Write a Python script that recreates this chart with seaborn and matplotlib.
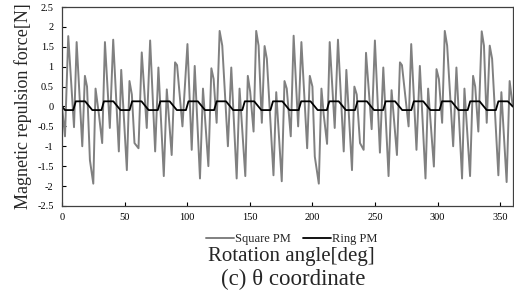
import numpy as np
import pandas as pd
import matplotlib
matplotlib.use('Agg')
import matplotlib.pyplot as plt
import seaborn as sns

# Square PM: vertices (angle [deg], force [N])
square_angle = [0, 2.4, 5.0, 9.6, 11.7, 16.2, 18.3, 20.0, 22.3, 25.0, 26.8, 29.5, 32.1,
                34.3, 38.2, 40.9, 45.4, 47.3, 51.8, 53.9, 55.8, 57.9, 61.1, 63.7, 67.7,
                70.4, 74.4, 77.0, 81.3, 83.7, 87.6, 90.3, 91.9, 96.2, 100.2, 103.6, 106.0,
                110.2, 112.6, 116.9, 119.3, 121.1, 123.5, 125.9, 128.0, 132.5, 135.2,
                139.5, 141.8, 146.4, 148.4, 150.3, 153.0, 155.1, 157.0, 159.6, 161.8,
                163.6, 168.9, 171.1, 175.5, 177.7, 179.5, 182.7, 185.0, 188.6, 191.2,
                195.8, 197.9, 200.0, 201.9, 205.1, 207.2, 209.0, 211.7, 213.8, 217.8,
                220.4, 225.0, 227.1, 231.6, 233.5, 235.4, 238.0, 240.9, 242.8, 247.3,
                249.9, 253.9, 256.6, 260.8, 263.2, 267.5, 269.9, 271.5, 276.8, 278.9,
                283.1, 285.8, 290.3, 292.4, 297.0, 299.1, 301.0, 303.6, 305.7, 307.6,
                312.4, 315.0, 319.5, 321.4, 325.9, 328.3, 330.0, 332.5, 335.2, 337.0,
                339.2, 341.6, 343.5, 348.5, 350.9, 355.1, 357.5, 360.0]
square_force = [0.0, -0.75, 1.77, -0.52, 1.62, -1.0, 0.77, 0.5, -1.35, -1.94, 0.45, -0.2, -0.92,
                1.62, -0.54, 1.68, -1.13, 0.92, -1.6, 0.64, 0.3, -0.92, -1.05, 1.36, -0.54,
                1.66, -1.13, 0.98, -1.75, 0.43, -1.22, 1.11, 1.04, -0.5, 1.57, -1.09, 1.02,
                -1.81, 0.45, -1.5, 0.96, 0.69, -0.41, 1.9, 1.53, -1.0, 0.98,
                -1.81, 0.45, -1.75, 0.77, 0.37, -0.63, 1.9, 1.53, -0.41, 1.52,
                1.2, -1.73, 0.36, -1.88, 0.64, 0.45, -0.75, 1.78, -0.5, 1.62,
                -1.05, 0.77, 0.5, -1.26, -1.94, 0.45, -0.2, -0.94, 1.62, -0.54,
                1.68, -1.13, 0.92, -1.6, 0.5, 0.3, -0.92, -1.09, 1.35, -0.57,
                1.66, -1.16, 0.98, -1.75, 0.41, -1.22, 1.11, 1.04, -0.5, 1.57,
                -1.09, 1.02, -1.81, 0.45, -1.51, 0.94, 0.69, -0.41, 1.9, 1.53,
                -1.0, 0.98, -1.81, 0.45, -1.75, 0.77, 0.5, -0.63, 1.89, 1.53,
                -0.41, 1.53, 1.2, -1.73, 0.36, -1.9, 0.64, 0.0]

# Ring PM: vertices of the small stepped ripple
ring_angle = [0, 2.4,
              9, 11, 18.5, 24.2, 31.5, 33.5, 41, 46.7, 54, 56, 63.5, 69.2,
              76.5, 78.5, 86, 91.7, 99, 101, 108.5, 114.2, 121.5, 123.5, 131, 136.7,
              144, 146, 153.5, 159.2, 166.5, 168.5, 176, 181.7, 189, 191, 198.5, 204.2,
              211.5, 213.5, 221, 226.7, 234, 236, 243.5, 249.2, 256.5, 258.5, 266, 271.7,
              279, 281, 288.5, 294.2, 301.5, 303.5, 311, 316.7, 324, 326, 333.5, 339.2,
              346.5, 348.5, 356, 360]
ring_force = [0.0, -0.09,
              -0.09, 0.13, 0.13, -0.09, -0.09, 0.13, 0.13, -0.09, -0.09, 0.13, 0.13, -0.09,
              -0.09, 0.13, 0.13, -0.09, -0.09, 0.13, 0.13, -0.09, -0.09, 0.13, 0.13, -0.09,
              -0.09, 0.13, 0.13, -0.09, -0.09, 0.13, 0.13, -0.09, -0.09, 0.13, 0.13, -0.09,
              -0.09, 0.13, 0.13, -0.09, -0.09, 0.13, 0.13, -0.09, -0.09, 0.13, 0.13, -0.09,
              -0.09, 0.13, 0.13, -0.09, -0.09, 0.13, 0.13, -0.09, -0.09, 0.13, 0.13, -0.09,
              -0.09, 0.13, 0.13, 0.0]

x_ticks = [0, 50, 100, 150, 200, 250, 300, 350]
y_ticks = [2.5, 2, 1.5, 1, 0.5, 0, -0.5, -1, -1.5, -2, -2.5]
y_tick_labels = ['2.5', '2', '1.5', '1', '0.5', '0', '-0.5', '-1', '-1.5', '-2', '-2.5']

sns.set_style('ticks')
plt.rcParams['font.family'] = ['Liberation Serif', 'DejaVu Serif']
plt.rcParams['axes.unicode_minus'] = False

square_df = pd.DataFrame({'angle': square_angle, 'force': square_force})
ring_df = pd.DataFrame({'angle': ring_angle, 'force': ring_force})

fig = plt.figure(figsize=(5.14, 2.95), dpi=100)
ax = fig.add_axes([0.1206, 0.302, 0.877, 0.674])

sns.lineplot(data=square_df, x='angle', y='force', ax=ax, color='#808080',
             linewidth=1.4, sort=False, label='Square PM')
sns.lineplot(data=ring_df, x='angle', y='force', ax=ax, color='black',
             linewidth=1.3, sort=False, label='Ring PM')

ax.set_xlim(0, 360)
ax.set_ylim(-2.5, 2.5)
ax.set_xticks(x_ticks)
ax.set_yticks(y_ticks)
ax.set_yticklabels(y_tick_labels)
ax.tick_params(direction='in', length=3, width=0.8, labelsize=7.5, colors='black')
ax.tick_params(axis='y', pad=6)
ax.tick_params(axis='x', pad=5)
for s in ax.spines.values():
    s.set_color('#404040')
    s.set_linewidth(0.9)

ax.set_xlabel('')
ax.set_ylabel('Magnetic repulsion force[N]', fontsize=13, labelpad=4)

ax.legend_.remove()
handles, labels = ax.get_legend_handles_labels()
fig.legend(handles, labels, loc='center', bbox_to_anchor=(0.568, 0.19), ncol=2,
           frameon=False, fontsize=9, handlelength=2.2, handletextpad=0.1,
           columnspacing=1.0)

fig.text(0.567, 0.129, 'Rotation angle[deg]', ha='center', va='center', fontsize=15)
fig.text(0.57, 0.054, '(c) \u03b8 coordinate', ha='center', va='center', fontsize=16.5)

fig.savefig('out.png', dpi=100)
